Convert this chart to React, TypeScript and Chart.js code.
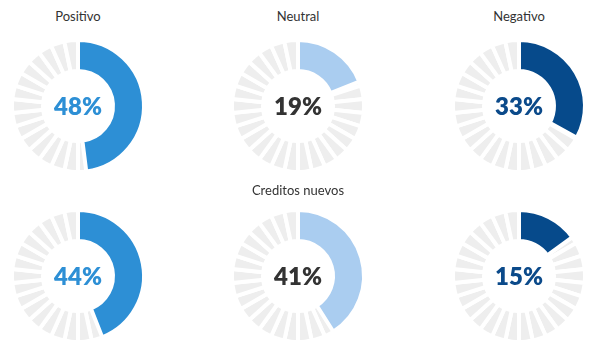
import React, { useEffect, useRef } from "react";
import { Chart, registerables } from "chart.js";

Chart.register(...registerables);

const gaugeTitles = ["Positivo", "Neutral", "Negativo", "", "Creditos nuevos", ""];
const gaugeValues = [48, 19, 33, 44, 41, 15];
const arcColors = ["#2d8fd5", "#aacdf0", "#064a8b", "#2d8fd5", "#aacdf0", "#064a8b"];
const textColors = ["#2d8fd5", "#333333", "#0b4a8a", "#2d8fd5", "#333333", "#0b4a8a"];
const centersX = [78, 298, 519, 78, 298, 519];
const centersY = [106, 106, 106, 276, 276, 276];
const titlesY = [16, 16, 16, 190, 190, 190];

const RING_SEGMENTS = 30;
const SIZE = 150;
const RADIUS = 66;
const CUTOUT = "53%";

function Gauge({ idx }: { idx: number }) {
  const bgRef = useRef<HTMLCanvasElement | null>(null);
  const fgRef = useRef<HTMLCanvasElement | null>(null);

  useEffect(() => {
    const bg = new Chart(bgRef.current as HTMLCanvasElement, {
      type: "doughnut",
      data: {
        labels: Array.from({ length: RING_SEGMENTS }, (_, i) => String(i)),
        datasets: [
          {
            data: Array.from({ length: RING_SEGMENTS }, () => 1),
            backgroundColor: "#eeeeee",
            borderColor: "#ffffff",
            borderWidth: 4,
          },
        ],
      },
      options: {
        responsive: false,
        animation: false,
        events: [],
        radius: RADIUS,
        cutout: CUTOUT,
        plugins: { legend: { display: false }, tooltip: { enabled: false } },
      },
    });
    const v = gaugeValues[idx];
    const fg = new Chart(fgRef.current as HTMLCanvasElement, {
      type: "doughnut",
      data: {
        labels: ["value", "rest"],
        datasets: [
          {
            data: [v, 100 - v],
            backgroundColor: [arcColors[idx], "rgba(0,0,0,0)"],
            borderColor: ["#ffffff", "rgba(0,0,0,0)"],
            borderWidth: [4, 0],
          },
        ],
      },
      options: {
        responsive: false,
        animation: false,
        events: [],
        radius: RADIUS,
        cutout: CUTOUT,
        plugins: { legend: { display: false }, tooltip: { enabled: false } },
      },
    });
    return () => {
      bg.destroy();
      fg.destroy();
    };
  }, [idx]);

  const cx = centersX[idx];
  const cy = centersY[idx];
  const canvasStyle: React.CSSProperties = {
    position: "absolute",
    left: cx - SIZE / 2,
    top: cy - SIZE / 2,
    width: SIZE,
    height: SIZE,
  };
  return (
    <>
      {gaugeTitles[idx] && (
        <div
          style={{
            position: "absolute",
            left: cx - 100,
            width: 200,
            top: titlesY[idx] - 9,
            height: 18,
            lineHeight: "18px",
            textAlign: "center",
            fontFamily: "Lato, 'Open Sans', sans-serif",
            fontSize: 13,
            color: "#333333",
          }}
        >
          {gaugeTitles[idx]}
        </div>
      )}
      <canvas ref={bgRef} width={SIZE} height={SIZE} style={canvasStyle} />
      <canvas ref={fgRef} width={SIZE} height={SIZE} style={canvasStyle} />
      <div
        style={{
          position: "absolute",
          left: cx - 50,
          width: 100,
          top: cy - 15,
          height: 30,
          lineHeight: "30px",
          textAlign: "center",
          fontFamily: "Lato, 'Open Sans', sans-serif",
          fontWeight: 800,
          fontSize: 24,
          color: textColors[idx],
        }}
      >
        {gaugeValues[idx]}%
      </div>
    </>
  );
}

export default function App() {
  return (
    <div
      style={{
        position: "absolute",
        left: 0,
        top: 0,
        width: 600,
        height: 355,
        background: "#ffffff",
        overflow: "hidden",
      }}
    >
      {gaugeValues.map((_, i) => (
        <Gauge key={i} idx={i} />
      ))}
    </div>
  );
}
